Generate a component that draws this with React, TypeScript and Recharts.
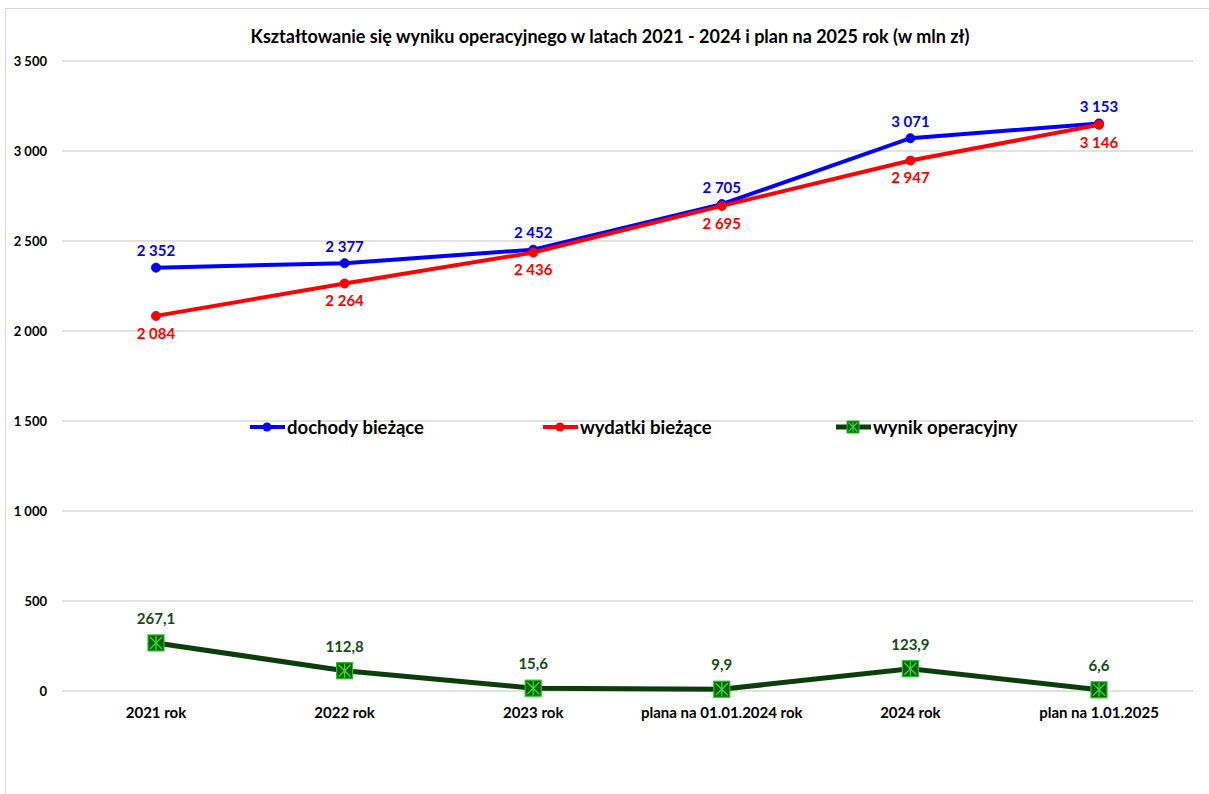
import React from 'react';
import {
  LineChart,
  Line,
  XAxis,
  YAxis,
  CartesianGrid,
  Legend,
  LabelList,
} from 'recharts';

const categories = [
  '2021 rok',
  '2022 rok',
  '2023 rok',
  'plana na 01.01.2024 rok',
  '2024 rok',
  'plan na 1.01.2025',
];
const dochody = [2352, 2377, 2452, 2705, 3071, 3153];
const wydatki = [2084, 2264, 2436, 2695, 2947, 3146];
const wynik = [267.1, 112.8, 15.6, 9.9, 123.9, 6.6];
const yTicks = [0, 500, 1000, 1500, 2000, 2500, 3000, 3500];

const data = categories.map((c, i) => ({
  cat: c,
  dochody: dochody[i],
  wydatki: wydatki[i],
  wynik: wynik[i],
}));

const FONT = 'Lato, "Open Sans", sans-serif';
const BLUE = '#0000ff';
const RED = '#ff0000';
const DARK_GREEN = '#0d3d0d';
const LABEL_GREEN = '#124d12';

const fmtInt = (v: number) => String(Math.round(v)).replace(/\B(?=(\d{3})+(?!\d))/g, ' ');
const fmtDec = (v: number) => v.toFixed(1).replace('.', ',');

const makeLabel = (color: string, dy: number, fmt: (v: number) => string) => (props: any) => {
  const { x, y, value } = props;
  return (
    <text
      x={x}
      y={y + dy}
      textAnchor="middle"
      dominantBaseline="middle"
      fill={color}
      fontFamily={FONT}
      fontWeight={700}
      fontSize={15}
    >
      {fmt(value)}
    </text>
  );
};

const StarSquare = (props: any) => {
  const { cx, cy } = props;
  if (cx == null || cy == null) return null;
  const s = 8;
  return (
    <g>
      <rect x={cx - s} y={cy - s} width={s * 2} height={s * 2} fill="#0a5e0a" stroke="#1fc41f" strokeWidth={1.2} />
      <line x1={cx - s + 2} y1={cy - s + 2} x2={cx + s - 2} y2={cy + s - 2} stroke="#33e033" strokeWidth={1.3} />
      <line x1={cx - s + 2} y1={cy + s - 2} x2={cx + s - 2} y2={cy - s + 2} stroke="#33e033" strokeWidth={1.3} />
      <line x1={cx} y1={cy - s + 1} x2={cx} y2={cy + s - 1} stroke="#33e033" strokeWidth={1.3} />
    </g>
  );
};

const legendItems = [
  { name: 'dochody bieżące', color: BLUE, kind: 'dot' },
  { name: 'wydatki bieżące', color: RED, kind: 'dot' },
  { name: 'wynik operacyjny', color: DARK_GREEN, kind: 'star' },
];

const LegendContent = () => (
  <div style={{ display: 'flex', paddingLeft: 249, fontFamily: FONT, fontWeight: 700, fontSize: 18.5 }}>
    {legendItems.map((it) => (
      <div key={it.name} style={{ width: 293, display: 'flex', alignItems: 'center' }}>
        <svg width={37} height={20} style={{ marginRight: 1 }}>
          <line x1={1} y1={10} x2={36} y2={10} stroke={it.color} strokeWidth={it.kind === 'star' ? 5 : 4} />
          {it.kind === 'dot' ? (
            <circle cx={18} cy={10} r={4.5} fill={it.color} />
          ) : (
            <g>
              <rect x={12} y={4} width={12} height={12} fill="#0a5e0a" stroke="#1fc41f" strokeWidth={1} />
              <line x1={13.5} y1={5.5} x2={22.5} y2={14.5} stroke="#33e033" strokeWidth={1.2} />
              <line x1={13.5} y1={14.5} x2={22.5} y2={5.5} stroke="#33e033" strokeWidth={1.2} />
              <line x1={18} y1={5} x2={18} y2={15} stroke="#33e033" strokeWidth={1.2} />
            </g>
          )}
        </svg>
        <span style={{ color: '#000' }}>{it.name}</span>
      </div>
    ))}
  </div>
);

export default function App() {
  return (
    <div style={{ position: 'absolute', left: 0, top: 0, width: 1209, height: 794, background: '#fff', overflow: 'hidden' }}>
      <div
        style={{
          position: 'absolute',
          left: 5,
          top: 8,
          width: 1220,
          height: 820,
          border: '1.5px solid #d9d9d9',
          boxSizing: 'border-box',
        }}
      />
      <div
        style={{
          position: 'absolute',
          top: 25,
          left: 0,
          width: 1220,
          textAlign: 'center',
          fontFamily: FONT,
          fontWeight: 700,
          fontSize: 18,
          color: '#000',
        }}
      >
        Kształtowanie się wyniku operacyjnego w latach 2021 - 2024 i plan na 2025 rok (w mln zł)
      </div>
      <div style={{ position: 'absolute', left: 0, top: 0 }}>
        <LineChart width={1209} height={794} data={data} margin={{ top: 61, right: 16, left: 0, bottom: 73 }}>
          <CartesianGrid vertical={false} stroke="#d9d9d9" strokeWidth={1.5} />
          <XAxis
            dataKey="cat"
            interval={0}
            axisLine={false}
            tickLine={false}
            tickMargin={10}
            height={30}
            padding={{ left: 94, right: 94 }}
            tick={{ fill: '#000', fontFamily: FONT, fontWeight: 700, fontSize: 15 }}
          />
          <YAxis
            domain={[0, 3500]}
            ticks={yTicks}
            width={62}
            axisLine={false}
            tickLine={false}
            tickMargin={9}
            tickFormatter={fmtInt}
            tick={{ fill: '#000', fontFamily: FONT, fontWeight: 700, fontSize: 13 }}
          />
          <Legend
            verticalAlign="middle"
            content={<LegendContent />}
            wrapperStyle={{ top: 416, left: 0, width: 1209 }}
          />
          <Line
            dataKey="dochody"
            name="dochody bieżące"
            stroke={BLUE}
            strokeWidth={4}
            dot={{ r: 4.5, fill: BLUE, stroke: BLUE, strokeWidth: 1 }}
            isAnimationActive={false}
          >
            <LabelList dataKey="dochody" content={makeLabel(BLUE, -15, fmtInt)} />
          </Line>
          <Line
            dataKey="wydatki"
            name="wydatki bieżące"
            stroke={RED}
            strokeWidth={4}
            dot={{ r: 4.5, fill: RED, stroke: RED, strokeWidth: 1 }}
            isAnimationActive={false}
          >
            <LabelList dataKey="wydatki" content={makeLabel(RED, 19, fmtInt)} />
          </Line>
          <Line
            dataKey="wynik"
            name="wynik operacyjny"
            stroke={DARK_GREEN}
            strokeWidth={5}
            dot={<StarSquare />}
            isAnimationActive={false}
          >
            <LabelList dataKey="wynik" content={makeLabel(LABEL_GREEN, -23, fmtDec)} />
          </Line>
        </LineChart>
      </div>
    </div>
  );
}
